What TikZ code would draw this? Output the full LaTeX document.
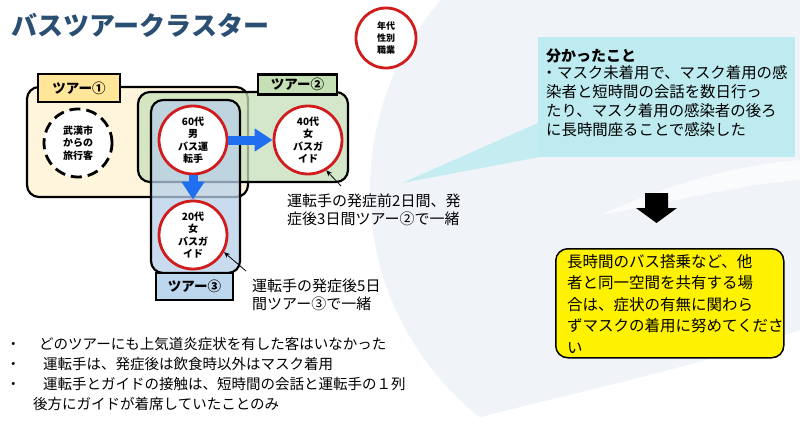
\documentclass[tikz,border=0pt]{standalone}
\usepackage{fontspec}
\setmainfont{Noto Sans CJK JP}
\usetikzlibrary{arrows.meta}
\definecolor{titleblue}{HTML}{2A4F72}
\definecolor{tourA}{HTML}{FFF2D2}
\definecolor{tourAlab}{HTML}{FFE699}
\definecolor{tourB}{HTML}{C8E0BA}
\definecolor{tourBlab}{HTML}{C5E0B4}
\definecolor{tourC}{HTML}{B7D0EA}
\definecolor{tourClab}{HTML}{BDD7EE}
\definecolor{circred}{HTML}{D01C1C}
\definecolor{arrowblue}{HTML}{1F6FF0}
\definecolor{callout}{HTML}{BDEBF0}
\definecolor{bgblue}{HTML}{F0F4F9}
\begin{document}
\begin{tikzpicture}[x=1pt,y=-1pt,
  tourbox/.style={draw=black, line width=2.2pt, rounded corners=12pt, fill opacity=0.75, minimum width=#1},
  tourlabel/.style={draw=black, line width=2.2pt, inner sep=0pt, font=\bfseries\fontsize{13.5}{16}\selectfont},
  person/.style={circle, draw=circred, line width=2.8pt, fill=white, minimum size=68pt, inner sep=0pt, align=center, font=\bfseries\fontsize{10}{12.5}\selectfont},
  guest/.style={circle, draw=black, line width=2.8pt, dash pattern=on 11pt off 6pt, fill=white, minimum size=68pt, inner sep=0pt, align=center, font=\bfseries\fontsize{10}{12.5}\selectfont},
  bluearrow/.style={draw=arrowblue, line width=9pt, -{Triangle[width=22pt,length=18pt]}},
  pointer/.style={draw=black, line width=0.8pt, -{Stealth[length=6pt,width=5pt]}},
  plaintext/.style={inner sep=0pt, align=left, anchor=north west}
]
\useasboundingbox (0,0) rectangle (800,428);
\fill[white] (0,0) rectangle (800,428);
\begin{scope}
\clip (0,0) rectangle (800,428);
\fill[bgblue] (660,190) ellipse [x radius=290pt, y radius=290pt];
\fill[white] (440,428) .. controls (560,395) and (690,370) .. (800,330) -- (800,428) -- cycle;
\fill[white!60!bgblue] (600,215) .. controls (680,180) and (740,165) .. (800,160) -- (800,180) .. controls (740,185) and (680,200) .. (600,215) -- cycle;
\end{scope}

% title
\node[anchor=west, inner sep=0pt, text=titleblue, font=\bfseries\fontsize{26}{30}\selectfont] (title) at (11,25) {バスツアークラスター};

% legend circle
\node[person, minimum size=60pt, font=\bfseries\fontsize{9}{12}\selectfont] (legend) at (386,38) {年代\\性別\\職業};

% tour boxes
\node[tourbox=221pt, fill=tourA, minimum height=110pt] (t1) at (137.5,142) {};
\node[tourlabel, fill=tourAlab, minimum width=82pt, minimum height=28pt] (l1) at (79,88) {ツアー①};
\node[tourbox=210pt, fill=tourB, minimum height=90pt] (t2) at (243,137) {};
\node[tourlabel, fill=tourBlab, minimum width=79pt, minimum height=20pt] (l2) at (297.5,84.5) {ツアー②};
\node[tourbox=89pt, fill=tourC, minimum height=173pt] (t3) at (195.5,186.5) {};
\node[tourlabel, fill=tourClab, minimum width=77pt, minimum height=27pt] (l3) at (194.5,286.5) {ツアー③};

% people
\node[guest] (wuhan) at (78,143) {武漢市\\からの\\旅行客};
\node[person] (c60) at (193,140) {60代\\男\\バス運\\転手};
\node[person] (c40) at (308,140) {40代\\女\\バスガ\\イド};
\node[person] (c20) at (193,235) {20代\\女\\バスガ\\イド};

\draw[bluearrow] (c60.east) -- (c40.west);
\draw[bluearrow] (c60.south) -- (c20.north);

% annotations
\node[plaintext, font=\fontsize{15}{18}\selectfont] (ann40) at (287,194) {運転手の発症前2日間、発\\症後3日間ツアー②で一緒};
\node[plaintext, font=\fontsize{15}{18}\selectfont] (ann20) at (252,279) {運転手の発症後5日\\間ツアー③で一緒};
\coordinate (p40) at (341,186);
\coordinate (p20) at (246,271);
\draw[pointer] (p40) -- (c40.-59);
\draw[pointer] (p20) -- (c20.-29);

% bottom bullets
\node[plaintext, font=\fontsize{14.5}{20}\selectfont] (notes) at (6,337) {\makebox[33pt][l]{・}どのツアーにも上気道炎症状を有した客はいなかった\\\makebox[37pt][l]{・}運転手は、発症後は飲食時以外はマスク着用\\\makebox[37pt][l]{・}運転手とガイドの接触は、短時間の会話と運転手の１列\\\makebox[27pt][l]{}後方にガイドが着席していたことのみ};

% findings box with callout
\fill[callout, opacity=0.85] (402,183) -- (540,122) -- (540,157) -- cycle;
\node[fill=callout, minimum width=257pt, minimum height=120pt, inner sep=0pt, anchor=north west] (finding) at (538,37) {};
\node[plaintext, font=\bfseries\fontsize{15}{19}\selectfont] (findhead) at (546,48.5) {分かったこと};
\node[plaintext, font=\fontsize{15.4}{19}\selectfont] (findtext) at (546,65.5) {\hspace{-4.5pt}・マスク未着用で、マスク着用の感\\染者と短時間の会話を数日行っ\\たり、マスク着用の感染者の後ろ\\に長時間座ることで感染した};

% black down arrow
\fill[black] (645,193) -- (668,193) -- (668,208) -- (677,208) -- (656.5,223) -- (636,208) -- (645,208) -- cycle;

% advice box
\node[draw=black, line width=1.5pt, rounded corners=12pt, fill=yellow, minimum width=228pt, minimum height=109pt, inner sep=0pt, anchor=north west] (advice) at (555,248) {};
\node[plaintext, font=\fontsize{15.5}{21.5}\selectfont] (advicetext) at (567,254) {長時間のバス搭乗など、他\\者と同一空間を共有する場\\合は、症状の有無に関わら\\ずマスクの着用に努めてくださ\\い};
\end{tikzpicture}
\end{document}
